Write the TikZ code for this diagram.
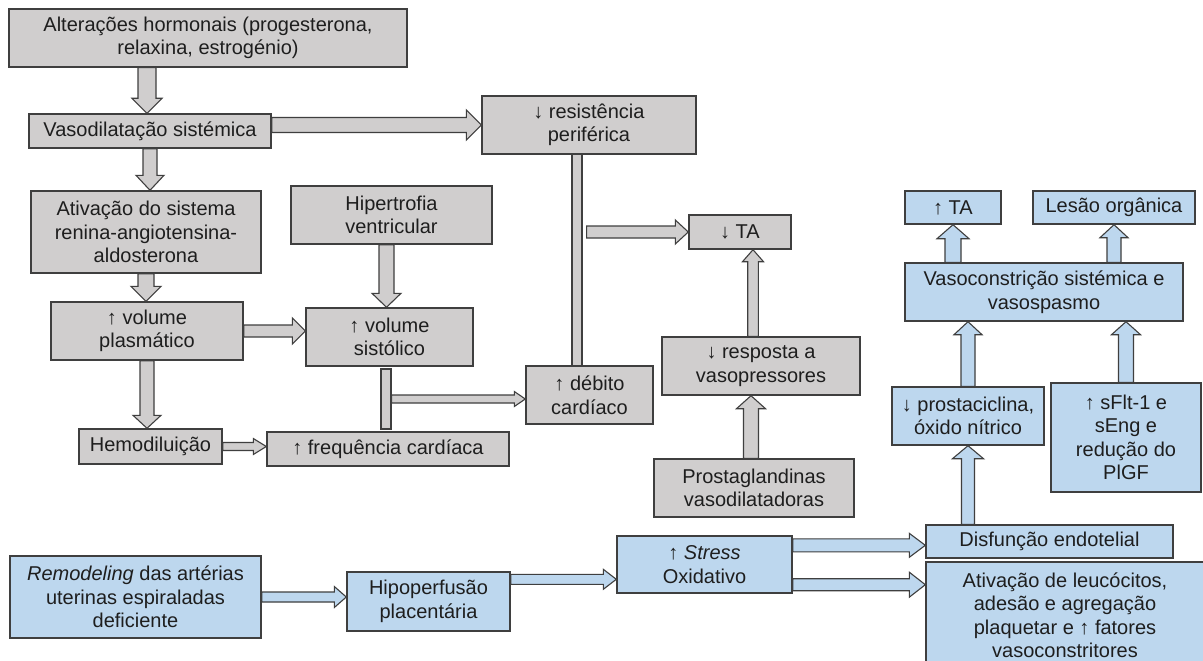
\documentclass[tikz,border=0pt]{standalone}
\usepackage{fontspec}
\setmainfont{Liberation Sans}
\usetikzlibrary{calc}
\definecolor{gfill}{HTML}{D0CECE}
\definecolor{bfill}{HTML}{BDD7EE}
\definecolor{edge}{HTML}{3F3F3F}
\definecolor{txt}{HTML}{1E1E1E}
% block arrow: #1 fill, #2 start, #3 end, #4 half shaft, #5 half head, #6 head length
\newcommand\blk[6]{%
  \path[draw=edge, line width=1.1pt, fill=#1, line join=miter]
    let \p1=(#2), \p2=(#3), \p3=($(\p2)!#6!(\p1)$) in
    ($(\p1)!#4!90:(\p2)$) -- ($(\p3)!#4!-90:(\p1)$) -- ($(\p3)!#5!-90:(\p1)$) --
    (\p2) -- ($(\p3)!#5!90:(\p1)$) -- ($(\p3)!#4!90:(\p1)$) -- ($(\p1)!#4!-90:(\p2)$) -- cycle;}
\begin{document}
\begin{tikzpicture}[x=1pt,y=-1pt,
  box/.style={draw=edge, line width=1.4pt, inner sep=0pt, align=center, text=txt,
              font=\fontsize{20}{23.5}\selectfont},
  gbox/.style={box, fill=gfill},
  bbox/.style={box, fill=bfill},
  barbox/.style={draw=edge, line width=1.1pt, fill=gfill, inner sep=0pt}]
\useasboundingbox (0,0) rectangle (1203,661);
\fill[white] (0,0) rectangle (1203,661);

% grey (physiological) boxes
\node[gbox, minimum width=398pt, minimum height=58pt] (A) at (208,38) {Alterações hormonais (progesterona,\\relaxina, estrogénio)};
\node[gbox, minimum width=242pt, minimum height=34pt] (B) at (150,131) {Vasodilatação sistémica};
\node[gbox, minimum width=214pt, minimum height=58pt] (R) at (589,125) {↓ resistência\\periférica};
\node[gbox, minimum width=230pt, minimum height=82pt] (C) at (146,232) {Ativação do sistema\\renina-angiotensina-\\aldosterona};
\node[gbox, minimum width=201pt, minimum height=58pt] (H) at (391.5,215) {Hipertrofia\\ventricular};
\node[gbox, minimum width=192pt, minimum height=58pt] (D) at (147,331) {↑ volume\\plasmático};
\node[gbox, minimum width=167pt, minimum height=58pt] (E) at (389.5,337) {↑ volume\\sistólico};
\node[gbox, minimum width=143pt, minimum height=35pt] (F) at (150.5,446.5) {Hemodiluição};
\node[gbox, minimum width=242pt, minimum height=34pt] (G) at (388,449) {↑ frequência cardíaca};
\node[gbox, minimum width=127pt, minimum height=58pt] (DC) at (589.5,395) {↑ débito\\cardíaco};
\node[gbox, minimum width=102pt, minimum height=34pt] (TA) at (740,232) {↓ TA};
\node[gbox, minimum width=198pt, minimum height=58pt] (RV) at (761,366) {↓ resposta a\\vasopressores};
\node[gbox, minimum width=200pt, minimum height=58pt] (PG) at (754,488) {Prostaglandinas\\vasodilatadoras};

% bars
\node[barbox, minimum width=10pt, minimum height=60pt] (bar1) at (386,399) {};
\node[barbox, minimum width=10pt, minimum height=212pt] (bar2) at (577,260) {};

% blue (pathological) boxes
\node[bbox, minimum width=96pt, minimum height=33pt] (TA2) at (953,207.5) {↑ TA};
\node[bbox, minimum width=162pt, minimum height=33pt] (LO) at (1114,207.5) {Lesão orgânica};
\node[bbox, minimum width=278pt, minimum height=58pt] (VS) at (1044,292) {Vasoconstrição sistémica e\\vasospasmo};
\node[bbox, minimum width=152pt, minimum height=58pt] (PC) at (968,416) {↓ prostaciclina,\\óxido nítrico};
\node[bbox, minimum width=150pt, minimum height=109pt] (SF) at (1126,437.5) {↑ sFlt-1 e\\sEng e\\redução do\\PlGF};
\node[bbox, minimum width=251pt, minimum height=82pt] (RM) at (135.5,597) {\textit{Remodeling} das artérias\\uterinas espiraladas\\deficiente};
\node[bbox, minimum width=163pt, minimum height=59pt] (HP) at (428.5,601.5) {Hipoperfusão\\placentária};
\node[bbox, minimum width=175pt, minimum height=57pt] (ST) at (704.5,564.5) {↑ \textit{Stress}\\Oxidativo};
\node[bbox, minimum width=247pt, minimum height=33pt] (DE) at (1049.5,541.5) {Disfunção endotelial};
\node[bbox, minimum width=278pt, minimum height=106pt] (AL) at (1065,615) {Ativação de leucócitos,\\adesão e agregação\\plaquetar e ↑ fatores\\vasoconstritores};

% start points
\coordinate (s1) at ($(B.north |- A.south)+(-3,0)$);
\coordinate (s6) at ($(H.south)+(-5,0)$);
\coordinate (s10) at ($(bar2.east |- TA.west)+(4,0)$);
\coordinate (s11) at ($(RV.north)+(-8,0)$);
\coordinate (s12) at ($(PG.north)+(-3,0)$);
\coordinate (s19) at ($(HP.north east)+(0,8)$);
\coordinate (s20) at ($(ST.north east)+(0,10)$);
\coordinate (s21) at ($(ST.south east)+(0,-9)$);

% grey arrows
\blk{gfill}{s1}{s1 |- B.north}{9pt}{15pt}{15pt}
\blk{gfill}{B.south}{B.south |- C.north}{7pt}{14pt}{15pt}
\blk{gfill}{C.south}{C.south |- D.north}{8pt}{15pt}{15pt}
\blk{gfill}{D.south}{D.south |- F.north}{7pt}{14pt}{13pt}
\blk{gfill}{D.east}{D.east -| E.west}{6pt}{13pt}{13pt}
\blk{gfill}{s6}{s6 |- E.north}{7.5pt}{14.5pt}{14pt}
\blk{gfill}{F.east}{F.east -| G.west}{4pt}{8pt}{13pt}
\blk{gfill}{bar1.east}{bar1.east -| DC.west}{4pt}{7.5pt}{11pt}
\blk{gfill}{B.east |- R.west}{R.west}{7.5pt}{15pt}{15pt}
\blk{gfill}{s10}{TA.west}{6pt}{12pt}{13pt}
\blk{gfill}{s11}{s11 |- TA.south}{5.3pt}{10.5pt}{12pt}
\blk{gfill}{s12}{s12 |- RV.south}{7.5pt}{14.5pt}{13pt}

% blue arrows
\blk{bfill}{TA2.south |- VS.north}{TA2.south}{8pt}{16pt}{14pt}
\blk{bfill}{LO.south |- VS.north}{LO.south}{7pt}{14pt}{13pt}
\blk{bfill}{PC.north}{PC.north |- VS.south}{7pt}{14pt}{13pt}
\blk{bfill}{SF.north}{SF.north |- VS.south}{7.5pt}{14.5pt}{13pt}
\blk{bfill}{PC.south |- DE.north}{PC.south}{6.5pt}{15.5pt}{13pt}
\blk{bfill}{RM.east}{RM.east -| HP.west}{5pt}{10.5pt}{12pt}
\blk{bfill}{s19}{s19 -| ST.west}{5pt}{10pt}{13pt}
\blk{bfill}{s20}{s20 -| DE.west}{6.5pt}{12pt}{16pt}
\blk{bfill}{s21}{s21 -| AL.west}{6pt}{12.5pt}{16pt}
\end{tikzpicture}
\end{document}
